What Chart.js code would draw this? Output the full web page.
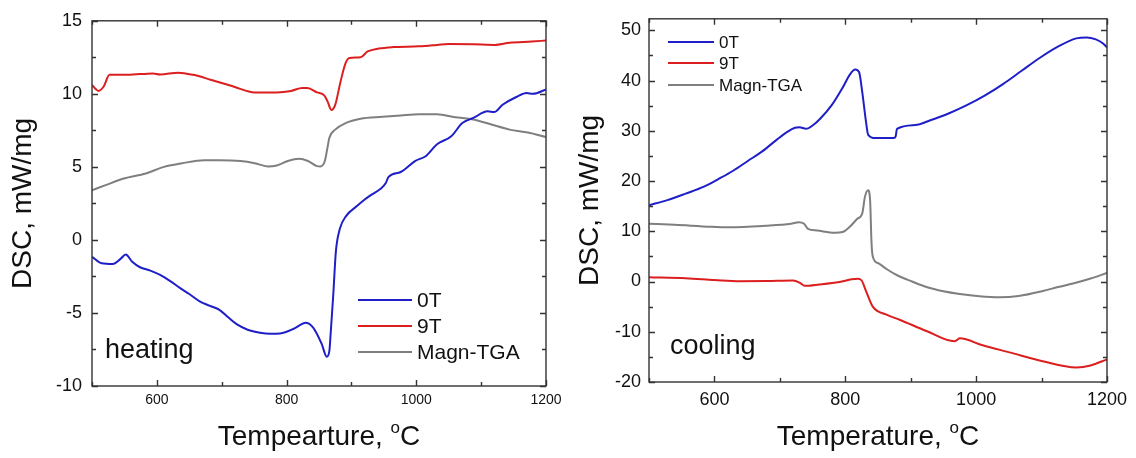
<!DOCTYPE html>
<html>
<head>
<meta charset="utf-8">
<script src="https://cdn.jsdelivr.net/npm/chart.js@4.4.1/dist/chart.umd.min.js"></script>
<style>
  html, body { margin: 0; padding: 0; background: #fff; }
  #wrap { position: relative; width: 1136px; height: 458px; background: #fff; }
  canvas { position: absolute; top: 0; }
</style>
</head>
<body>
<div id="wrap">
  <canvas id="heat" width="568" height="458" style="left:0;width:568px;height:458px"></canvas>
  <canvas id="cool" width="568" height="458" style="left:568px;width:568px;height:458px"></canvas>
</div>
<script>
// ---- data ----
const seriesNames = ["0T", "9T", "Magn-TGA"];

// heating
const heat0T_T = [500,515,532,544,552,562,574,590,605,620,636,650,666,681,697,710,723,740,759,775,790,810,820,829,841,854,862,866,868,872,876,882,892,908,920,931,945,953,957,976,998,1015,1032,1054,1071,1088,1110,1120,1133,1155,1170,1180,1200];
const heat0T_v = [-1.15,-1.6,-1.65,-1.3,-1.0,-1.5,-1.87,-2.1,-2.4,-2.8,-3.3,-3.7,-4.2,-4.5,-4.8,-5.3,-5.77,-6.15,-6.35,-6.42,-6.4,-6.1,-5.85,-5.67,-6.0,-7.1,-8.0,-7.6,-6.4,-3.75,-0.8,0.74,1.65,2.3,2.75,3.1,3.5,3.9,4.3,4.65,5.4,5.75,6.55,7.1,8.0,8.35,8.8,8.75,9.25,9.8,10.05,10.0,10.3];

const heat9T_T = [500,510,518,527,555,594,605,633,656,684,718,751,785,807,824,832,847,858,863,869,875,883,891,897,914,925,942,964,1004,1032,1049,1088,1121,1144,1178,1200];
const heat9T_v = [10.6,10.2,10.5,11.3,11.3,11.4,11.33,11.45,11.3,10.95,10.5,10.1,10.1,10.2,10.4,10.4,10.1,9.9,9.5,8.9,9.25,10.8,12.1,12.45,12.5,12.9,13.1,13.2,13.25,13.35,13.42,13.4,13.35,13.5,13.58,13.65];

const heatTGA_T = [500,521,549,583,611,639,673,695,729,751,771,785,802,819,833,847,852,859,863,866,875,891,914,948,976,1004,1032,1060,1088,1116,1144,1172,1200];
const heatTGA_v = [3.4,3.75,4.2,4.55,5.0,5.25,5.45,5.45,5.4,5.25,5.03,5.1,5.4,5.55,5.4,5.05,5.03,5.4,6.3,7.0,7.55,8.0,8.3,8.43,8.52,8.6,8.6,8.4,8.25,7.9,7.55,7.35,7.05];

// cooling
const cool0T_T = [500,528,556,584,606,628,651,673,695,712,723,730,740,751,762,779,796,807,815,821,826,831,835,846,874,877,879,907,930,957,985,1013,1041,1069,1097,1125,1153,1169,1183,1194,1200];
const cool0T_v = [15.2,16.2,17.5,18.9,20.4,22.0,24.0,25.9,28.2,29.85,30.6,30.7,30.4,31.15,32.45,35.05,38.6,41.2,42.2,41.7,37.65,32.45,29.2,28.55,28.55,28.9,30.4,31.15,32.1,33.4,35.05,37.0,39.3,41.9,44.5,46.75,48.4,48.6,48.2,47.4,46.6];

const cool9T_T = [500,556,600,639,680,720,730,738,760,791,810,819,825,832,842,863,883,924,967,970,975,1010,1051,1100,1153,1175,1200];
const cool9T_v = [0.85,0.65,0.3,0.05,0.1,0.2,-0.2,-0.85,-0.6,-0.1,0.45,0.55,0.2,-2.0,-5.0,-6.6,-7.6,-9.85,-11.9,-11.7,-11.3,-12.7,-14.1,-15.8,-17.1,-16.7,-15.5];

const coolTGA_T = [500,539,595,623,678,717,729,737,743,757,784,796,807,818,826,830,835,838,840,842,851,863,880,902,924,950,975,1005,1036,1065,1102,1125,1148,1175,1200];
const coolTGA_v = [11.5,11.3,10.9,10.8,11.1,11.5,11.8,11.5,10.5,10.15,9.7,9.85,10.9,12.45,13.6,16.85,18.15,16.0,8.0,5.0,3.6,2.5,1.2,0.0,-1.1,-1.95,-2.5,-2.95,-3.15,-2.9,-1.9,-1.1,-0.4,0.6,1.7];

// axes
const xTicks = [500,600,700,800,900,1000,1100,1200];
const xLabels = [600,800,1000,1200];
const heatYTicks = [-10,-7.5,-5,-2.5,0,2.5,5,7.5,10,12.5,15];
const heatYLabels = [-10,-5,0,5,10,15];
const coolYTicks = [-20,-15,-10,-5,0,5,10,15,20,25,30,35,40,45,50];
const coolYLabels = [-20,-10,0,10,20,30,40,50];

const colors = ["#1f1fc8", "#dc1e1e", "#7f7f7f"];
const FONT = "Arial, 'Liberation Sans', Helvetica, sans-serif";

function pts(xs, vs) {
  return xs.map((t, i) => ({ x: t, y: vs[i] }));
}

// frame, inward ticks on all sides, legend, note text and x title with superscript
const framePlugin = {
  id: "framePlugin",
  afterDatasetsDraw(chart, args, o) {
    const ctx = chart.ctx;
    const a = chart.chartArea;
    const xs = chart.scales.x, ys = chart.scales.y;
    ctx.save();
    ctx.strokeStyle = "#333";
    ctx.lineWidth = 1.4;
    ctx.strokeRect(a.left, a.top, a.right - a.left, a.bottom - a.top);
    ctx.beginPath();
    xTicks.forEach(v => {
      const px = Math.round(xs.getPixelForValue(v)) + 0.5;
      const len = xLabels.includes(v) ? 6 : 4;
      ctx.moveTo(px, a.bottom); ctx.lineTo(px, a.bottom - len);
      ctx.moveTo(px, a.top); ctx.lineTo(px, a.top + len);
    });
    o.yTicks.forEach(v => {
      const py = Math.round(ys.getPixelForValue(v)) + 0.5;
      const len = o.yLabels.includes(v) ? 6 : 4;
      ctx.moveTo(a.left, py); ctx.lineTo(a.left + len, py);
      ctx.moveTo(a.right, py); ctx.lineTo(a.right - len, py);
    });
    ctx.stroke();

    // legend
    ctx.font = o.legendFont + "px " + FONT;
    ctx.textBaseline = "middle";
    ctx.textAlign = "left";
    chart.data.datasets.forEach((ds, i) => {
      const yy = o.legendRows[i];
      ctx.strokeStyle = ds.borderColor;
      ctx.lineWidth = 2;
      ctx.beginPath();
      ctx.moveTo(o.legendX0, yy); ctx.lineTo(o.legendX1, yy);
      ctx.stroke();
      ctx.fillStyle = "#111";
      ctx.fillText(ds.label, o.legendX1 + 5, yy + 1);
    });

    // panel note
    ctx.font = o.noteFont + "px " + FONT;
    ctx.textBaseline = "alphabetic";
    ctx.fillStyle = "#111";
    ctx.fillText(o.note, o.noteX, o.noteY);

    // x title with superscript o
    const fs = 28;
    ctx.font = fs + "px " + FONT;
    const w1 = ctx.measureText(o.xTitle).width;
    const wC = ctx.measureText("C").width;
    ctx.font = Math.round(fs * 0.62) + "px " + FONT;
    const wo = ctx.measureText("o").width;
    let sx = (a.left + a.right) / 2 - (w1 + wo + wC) / 2;
    ctx.font = fs + "px " + FONT;
    ctx.fillText(o.xTitle, sx, o.xTitleY);
    ctx.font = Math.round(fs * 0.62) + "px " + FONT;
    ctx.fillText("o", sx + w1, o.xTitleY - fs * 0.42);
    ctx.font = fs + "px " + FONT;
    ctx.fillText("C", sx + w1 + wo, o.xTitleY);
    ctx.restore();
  }
};

function makeChart(id, sets, p) {
  return new Chart(document.getElementById(id), {
    type: "line",
    data: {
      datasets: sets.map((s, i) => ({
        label: seriesNames[i],
        data: s,
        borderColor: colors[i],
        borderWidth: 2,
        pointRadius: 0,
        fill: false,
        cubicInterpolationMode: "monotone"
      }))
    },
    options: {
      responsive: false,
      animation: false,
      events: [],
      layout: { padding: { top: p.top, right: p.right, left: 0, bottom: 0 } },
      scales: {
        x: {
          type: "linear",
          min: 500, max: 1200,
          grid: { display: false, drawTicks: false },
          border: { display: false },
          afterBuildTicks: s => { s.ticks = xTicks.map(v => ({ value: v })); },
          afterFit: s => { s.height = p.xHeight; },
          ticks: {
            autoSkip: false, maxRotation: 0, padding: p.xPad,
            color: "#111",
            font: { family: FONT, size: p.xFont },
            callback: v => xLabels.includes(v) ? String(v) : ""
          }
        },
        y: {
          type: "linear",
          min: p.yMin, max: p.yMax,
          grid: { display: false, drawTicks: false },
          border: { display: false },
          afterBuildTicks: s => { s.ticks = p.yTicks.map(v => ({ value: v })); },
          afterFit: s => { s.width = p.yWidth; },
          title: {
            display: true, text: "DSC, mW/mg", color: "#111",
            font: { family: FONT, size: 28 },
            padding: { top: p.titlePad, bottom: 0 }
          },
          ticks: {
            autoSkip: false, padding: p.yPad,
            color: "#111",
            font: { family: FONT, size: 18 },
            callback: v => p.yLabels.includes(v) ? String(v) : ""
          }
        }
      },
      plugins: {
        legend: { display: false },
        tooltip: { enabled: false },
        framePlugin: p.deco
      }
    },
    plugins: [framePlugin]
  });
}

makeChart("heat",
  [pts(heat0T_T, heat0T_v), pts(heat9T_T, heat9T_v), pts(heatTGA_T, heatTGA_v)],
  {
    top: 15, right: 22, xHeight: 72, yWidth: 92, xPad: 6, yPad: 10, xFont: 14,
    yMin: -10, yMax: 15, yTicks: heatYTicks, yLabels: heatYLabels, titlePad: 6,
    deco: {
      yTicks: heatYTicks, yLabels: heatYLabels,
      legendX0: 358, legendX1: 412, legendRows: [300, 326, 352], legendFont: 21,
      note: "heating", noteX: 105, noteY: 358, noteFont: 27,
      xTitle: "Tempearture, ", xTitleY: 445
    }
  });

makeChart("cool",
  [pts(cool0T_T, cool0T_v), pts(cool9T_T, cool9T_v), pts(coolTGA_T, coolTGA_v)],
  {
    top: 11, right: 29, xHeight: 76, yWidth: 81, xPad: 7, yPad: 8, xFont: 18,
    yMin: -20, yMax: 52.3, yTicks: coolYTicks, yLabels: coolYLabels, titlePad: 5,
    deco: {
      yTicks: coolYTicks, yLabels: coolYLabels,
      legendX0: 100, legendX1: 146, legendRows: [42, 63, 85], legendFont: 17,
      note: "cooling", noteX: 102, noteY: 354, noteFont: 27,
      xTitle: "Temperature, ", xTitleY: 445
    }
  });
</script>
</body>
</html>
